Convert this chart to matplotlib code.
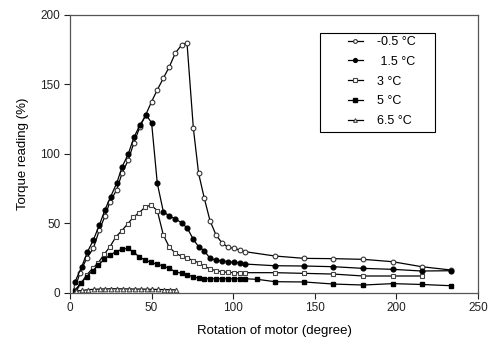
import matplotlib
matplotlib.use("Agg")
import matplotlib.pyplot as plt
from matplotlib.patches import Rectangle

plt.rcParams['font.family'] = ['Liberation Sans', 'DejaVu Sans']

# -0.5 °C
x_m05 = [3.5, 6.1, 10.2, 14.3, 18.0, 21.4, 24.5, 28.6, 31.9, 35.7, 39.2, 42.9, 46.4, 50.0,
         53.5, 57.2, 60.9, 64.5, 68.4, 71.7, 75.6, 78.8, 82.3, 85.8, 89.5, 93.3, 97.0, 100.5,
         104.2, 107.4, 125.6, 143.6, 161.4, 179.7, 197.7, 215.5, 233.5]
y_m05 = [4.7, 14.0, 24.6, 31.8, 45.0, 55.0, 65.4, 73.9, 85.9, 95.5, 108.0, 119.5, 128.0, 137.5,
         146.0, 154.4, 162.7, 172.4, 178.4, 179.8, 118.3, 85.9, 67.9, 51.7, 41.4, 35.5, 32.6, 31.8,
         30.6, 29.4, 26.3, 24.6, 24.4, 23.9, 22.2, 18.6, 16.2]

# 1.5 °C
x_15 = [3.1, 7.2, 10.6, 14.3, 18.0, 21.4, 24.9, 28.6, 32.0, 35.7, 39.2, 42.9, 46.6, 50.0,
        53.5, 57.2, 60.9, 64.5, 68.4, 71.9, 75.6, 78.8, 82.3, 85.8, 89.5, 93.3, 97.0, 100.5,
        104.2, 107.4, 125.6, 143.6, 161.4, 179.7, 197.7, 215.5, 233.5]
y_15 = [7.8, 18.6, 29.0, 37.8, 48.6, 59.5, 69.0, 78.7, 90.7, 99.8, 111.9, 120.7, 127.9, 122.4,
        78.7, 58.2, 55.1, 53.0, 50.3, 46.3, 38.3, 33.0, 30.1, 24.6, 23.4, 22.7, 22.2, 21.7,
        21.5, 20.5, 19.3, 19.1, 18.6, 17.4, 16.7, 15.5, 15.7]

# 3 °C
x_3 = [3.1, 6.7, 10.2, 13.9, 17.4, 21.0, 24.5, 28.2, 31.7, 35.3, 38.8, 42.3, 46.0, 49.6,
       53.5, 57.2, 60.9, 64.5, 68.4, 71.9, 75.6, 78.8, 82.3, 85.8, 89.5, 93.3, 97.0, 100.5,
       104.2, 107.4, 125.6, 143.6, 161.4, 179.7, 197.7, 215.5]
y_3 = [1.8, 6.6, 12.6, 17.4, 21.5, 27.7, 33.0, 40.2, 44.5, 49.4, 54.2, 57.5, 61.4, 63.1,
       59.0, 41.4, 32.6, 28.5, 26.0, 24.8, 23.0, 21.5, 19.0, 17.0, 15.7, 15.0, 14.5, 14.3,
       14.3, 14.3, 14.3, 13.8, 13.3, 11.9, 11.9, 11.9]

# 5 °C
x_5 = [3.1, 6.7, 10.2, 13.9, 17.4, 21.0, 24.5, 28.2, 31.7, 35.3, 38.8, 42.3, 46.0, 49.6,
       53.5, 57.2, 60.9, 64.5, 68.4, 71.9, 75.6, 78.8, 82.3, 85.8, 89.5, 93.3, 97.0, 100.5,
       104.2, 107.4, 114.8, 125.6, 143.6, 161.4, 179.7, 197.7, 215.5, 233.5]
y_5 = [1.3, 6.6, 11.5, 15.7, 19.8, 23.9, 27.0, 29.4, 31.1, 31.8, 29.4, 25.8, 23.4, 21.7,
       20.3, 19.1, 17.4, 15.0, 13.8, 12.6, 11.4, 10.2, 9.9, 9.9, 9.9, 9.9, 9.9, 9.9,
       9.9, 9.9, 9.5, 7.8, 7.6, 6.1, 5.4, 6.4, 5.8, 4.9]

# 6.5 °C
x_65 = [3.7, 7.3, 10.9, 14.5, 18.1, 21.7, 25.3, 28.9, 32.5, 36.1, 39.7, 43.3, 46.9, 50.5,
        54.1, 57.7, 61.3, 64.9]
y_65 = [1.0, 1.5, 2.0, 2.3, 2.5, 2.6, 2.7, 2.7, 2.6, 2.6, 2.5, 2.5, 2.4, 2.3,
        2.2, 2.1, 2.0, 1.9]

labels = ['-0.5 °C', ' 1.5 °C', '3 °C', '5 °C', '6.5 °C']
x_ticks = [0, 50, 100, 150, 200, 250]
y_ticks = [0, 50, 100, 150, 200]

fig = plt.figure(figsize=(4.88, 3.47), dpi=100)
ax = fig.add_axes([0.1434, 0.157, 0.8361, 0.800])

lw = 0.9
ms = 3.4
ax.plot(x_m05, y_m05, '-o', color='black', lw=lw, ms=ms, mfc='white', mec='#333333', mew=0.8, label=labels[0])
ax.plot(x_15, y_15, '-o', color='black', lw=lw, ms=ms, mfc='black', mec='black', label=labels[1])
ax.plot(x_3, y_3, '-s', color='black', lw=lw, ms=ms, mfc='white', mec='#444444', mew=0.8, label=labels[2])
ax.plot(x_5, y_5, '-s', color='black', lw=lw, ms=ms, mfc='black', mec='black', label=labels[3])
ax.plot(x_65, y_65, '-^', color='black', lw=lw, ms=ms, mfc='white', mec='#444444', mew=0.8, label=labels[4])

ax.set_xlim(0, 250)
ax.set_ylim(0, 200)
ax.set_xticks(x_ticks)
ax.set_yticks(y_ticks)
ax.tick_params(direction='out', length=4, width=0.8, labelsize=8.5, colors='#222222', pad=3)
for s in ax.spines.values():
    s.set_color('#555555')
    s.set_linewidth(0.9)

ax.set_xlabel('Rotation of motor (degree)', fontsize=9.5, labelpad=8)
ax.set_ylabel('Torque reading (%)', fontsize=9.5, labelpad=8)

leg = ax.legend(loc='center left', bbox_to_anchor=(0.681, 0.760), fontsize=9, frameon=False,
                handlelength=1.2, handletextpad=1.1, labelspacing=0.62, borderpad=0,
                borderaxespad=0, markerscale=0.8)
ax.add_patch(Rectangle((0.613, 0.578), 0.282, 0.357, transform=ax.transAxes,
                       facecolor='none', edgecolor='black', lw=0.8, zorder=5))

fig.savefig('out.png', dpi=100)
